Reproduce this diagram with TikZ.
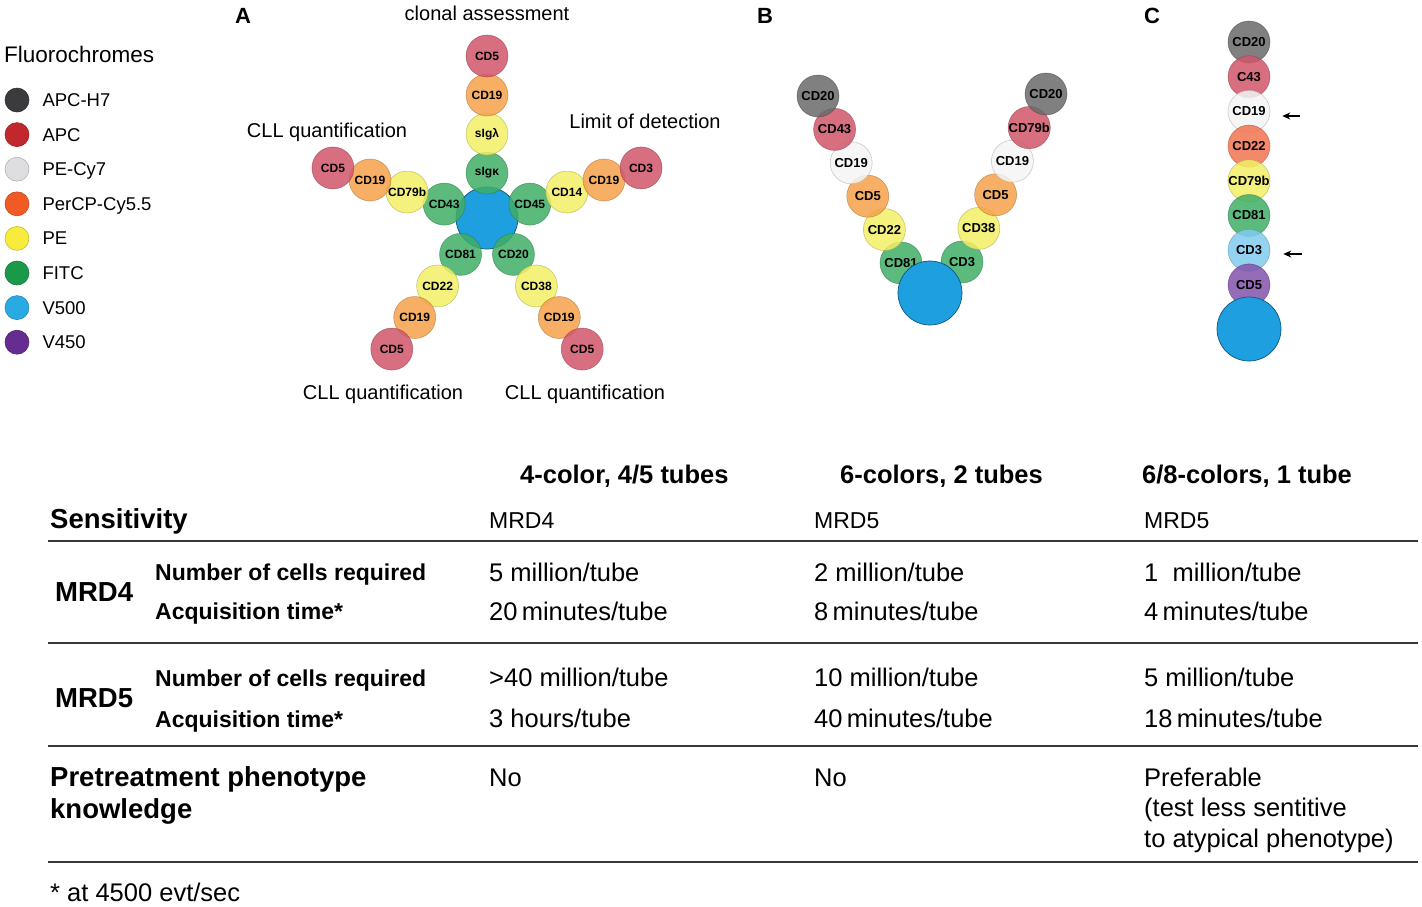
\documentclass[tikz,border=0pt]{standalone}
\usepackage{fontspec}
\setmainfont{Liberation Sans}
\usetikzlibrary{calc,positioning,arrows.meta}

% legend colours
\definecolor{kAPCH}{HTML}{3B3B3D}
\definecolor{kAPC}{HTML}{C1272D}
\definecolor{kPECy}{HTML}{DEDEE0}
\definecolor{kPerCP}{HTML}{F15A24}
\definecolor{kPE}{HTML}{F7EC3B}
\definecolor{kFITC}{HTML}{1A9A48}
\definecolor{kV500}{HTML}{2AAAE2}
\definecolor{kV450}{HTML}{662D91}
% marker colours in the panels
\definecolor{pgreen}{HTML}{3FAE66}
\definecolor{pyellow}{HTML}{F2EE66}
\definecolor{porange}{HTML}{F5A14A}
\definecolor{pred}{HTML}{D0566A}
\definecolor{pgray}{HTML}{6A6A6A}
\definecolor{pwhite}{HTML}{F4F4F4}
\definecolor{psalmon}{HTML}{F27350}
\definecolor{plblue}{HTML}{80CBEE}
\definecolor{ppurple}{HTML}{8352AA}
\definecolor{hubblue}{HTML}{1E9FDF}

\tikzset{
  dot/.style={circle, inner sep=0pt, minimum size=42pt, fill=#1, fill opacity=.85,
    text opacity=1, draw=#1!70!black, draw opacity=.6, line width=.6pt},
  hub/.style={circle, inner sep=0pt, minimum size=62pt, fill=hubblue,
    draw=hubblue!55!black, line width=.7pt},
  key/.style={circle, inner sep=0pt, minimum size=24pt, fill=#1, draw=#1!80!black, line width=.6pt},
  keytext/.style={font=\fontsize{18.5}{20}\selectfont, text height=13pt, text depth=0pt, inner sep=0pt},
  panel/.style={anchor=base, font=\bfseries\fontsize{22}{22}\selectfont},
  armtext/.style={anchor=base, font=\fontsize{20}{22}\selectfont},
  colhead/.style={anchor=base west, inner sep=0pt, font=\bfseries\fontsize{25.5}{27}\selectfont},
  rowhead/.style={anchor=base west, inner sep=0pt, font=\bfseries\fontsize{27.5}{32}\selectfont},
  subhead/.style={anchor=base west, inner sep=0pt, font=\bfseries\fontsize{23}{25}\selectfont},
  cell/.style={anchor=base west, inner sep=0pt, font=\fontsize{25.5}{30.5}\selectfont},
  rule/.style={line width=2.4pt, black!78},
  pointer/.style={-{Stealth[length=8pt,width=7pt]}, line width=1.2pt}
}

\begin{document}
\begin{tikzpicture}[x=1pt, y=-1pt]
\useasboundingbox (0,0) rectangle (1422,906);

% legend
\node[anchor=base west, inner sep=0pt, font=\fontsize{22.5}{24}\selectfont] (keytitle) at (4,62) {Fluorochromes};
\foreach \name/\col [count=\i] in {APC-H7/kAPCH, APC/kAPC, PE-Cy7/kPECy, PerCP-Cy5.5/kPerCP,
    PE/kPE, FITC/kFITC, V500/kV500, V450/kV450}{
  \node[key=\col] (k\i) at (17, {100+34.6*(\i-1)}) {};
  \node[keytext, right=13pt of k\i] (kt\i) {\name};
}

% panel A
\node[panel] (pA) at (243,23) {A};
\begin{scope}[every node/.append style={font=\bfseries\fontsize{12}{12}\selectfont}]
  \node[hub] (a0) at (487,218) {};
  \foreach \ang/\id/\la/\lb/\lc/\ld in {-90/u/sIgκ/sIgλ/CD19/CD5, -18/r/CD45/CD14/CD19/CD3,
      54/dr/CD20/CD38/CD19/CD5, 126/dl/CD81/CD22/CD19/CD5, 198/l/CD43/CD79b/CD19/CD5}{
    \node[dot=pgreen] (\id1) at ($(a0)+(\ang:45)$) {\la};
    \node[dot=pyellow] (\id2) at ($(a0)+(\ang:84)$) {\lb};
    \node[dot=porange] (\id3) at ($(a0)+(\ang:123)$) {\lc};
    \node[dot=pred] (\id4) at ($(a0)+(\ang:162)$) {\ld};
  }
\end{scope}
\node[armtext] (aup) at (487,20) {clonal assessment};
\node[armtext] (aleft) at (327,137) {CLL quantification};
\node[armtext] (aright) at (645,128) {Limit of detection};
\node[armtext] (adl) at (383,399) {CLL quantification};
\node[armtext] (adr) at (585,399) {CLL quantification};

% panel B
\node[panel] (pB) at (765,23) {B};
\begin{scope}[every node/.append style={font=\bfseries\fontsize{13}{13}\selectfont}]
  \foreach \lab/\col [count=\i] in {CD81/pgreen, CD22/pyellow, CD5/porange, CD19/pwhite, CD43/pred, CD20/pgray}
    \node[dot=\col] (bl\i) at ({901-16.6*(\i-1)}, {263-33.4*(\i-1)}) {\lab};
  \foreach \lab/\col [count=\i] in {CD3/pgreen, CD38/pyellow, CD5/porange, CD19/pwhite, CD79b/pred, CD20/pgray}
    \node[dot=\col] (br\i) at ({962+16.8*(\i-1)}, {262-33.6*(\i-1)}) {\lab};
  \node[hub, minimum size=64pt] (b0) at (930,293) {};
\end{scope}

% panel C
\node[panel] (pC) at (1152,23) {C};
\begin{scope}[every node/.append style={font=\bfseries\fontsize{13}{13}\selectfont}]
  \foreach \lab/\col [count=\i] in {CD20/pgray, C43/pred, CD19/pwhite, CD22/psalmon,
      CD79b/pyellow, CD81/pgreen, CD3/plblue, CD5/ppurple}
    \node[dot=\col] (c\i) at (1249, {42+34.7*(\i-1)}) {\lab};
  \node[hub, minimum size=64pt] (c0) at (1249,329) {};
\end{scope}
\coordinate (t3) at (1300,116);
\coordinate (t7) at (1302,254);
\draw[pointer] (t3) -- ([xshift=12pt]c3.east |- t3);
\draw[pointer] (t7) -- ([xshift=13pt]c7.east |- t7);

% table
\node[colhead] (h1) at (520,483) {4-color, 4/5 tubes};
\node[colhead] (h2) at (840,483) {6-colors, 2 tubes};
\node[colhead] (h3) at (1142,483) {6/8-colors, 1 tube};

\node[rowhead] (sens) at (50,528) {Sensitivity};
\node[cell, font=\fontsize{23}{25}\selectfont] (s1) at (489,528) {MRD4};
\node[cell, font=\fontsize{23}{25}\selectfont] (s2) at (814,528) {MRD5};
\node[cell, font=\fontsize{23}{25}\selectfont] (s3) at (1144,528) {MRD5};
\draw[rule] (48,541) -- (1418,541);

\node[rowhead] (m4) at (55,601) {MRD4};
\node[subhead] (m4n) at (155,580) {Number of cells required};
\node[subhead] (m4t) at (155,619) {Acquisition time*};
\node[cell] (m4n1) at (489,581) {5 million/tube};
\node[cell] (m4n2) at (814,581) {2 million/tube};
\node[cell] (m4n3) at (1144,581) {1~~million/tube};
\node[cell] (m4t1) at (489,620) {20\,minutes/tube};
\node[cell] (m4t2) at (814,620) {8\,minutes/tube};
\node[cell] (m4t3) at (1144,620) {4\,minutes/tube};
\draw[rule] (48,643) -- (1418,643);

\node[rowhead] (m5) at (55,707) {MRD5};
\node[subhead] (m5n) at (155,686) {Number of cells required};
\node[subhead] (m5t) at (155,727) {Acquisition time*};
\node[cell] (m5n1) at (489,686) {>40 million/tube};
\node[cell] (m5n2) at (814,686) {10 million/tube};
\node[cell] (m5n3) at (1144,686) {5 million/tube};
\node[cell] (m5t1) at (489,727) {3 hours/tube};
\node[cell] (m5t2) at (814,727) {40\,minutes/tube};
\node[cell] (m5t3) at (1144,727) {18\,minutes/tube};
\draw[rule] (48,746) -- (1418,746);

% multi-line nodes sit on the baseline of their last line
\node[rowhead, align=left] (pre) at (50,818) {Pretreatment phenotype\\knowledge};
\node[cell] (pre1) at (489,786) {No};
\node[cell] (pre2) at (814,786) {No};
\node[cell, align=left] (pre3) at (1144,847) {Preferable\\(test less sentitive\\to atypical phenotype)};
\draw[rule] (48,862) -- (1418,862);

\node[cell] (foot) at (50,901) {* at 4500 evt/sec};
\end{tikzpicture}
\end{document}
